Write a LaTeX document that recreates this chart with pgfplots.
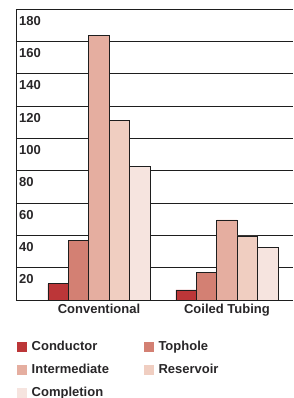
\documentclass[border=0pt]{standalone}
\usepackage{fontspec}
\setmainfont{Liberation Sans}
\usepackage{pgfplots}
\pgfplotsset{compat=1.18}
\definecolor{cCond}{RGB}{188,54,56}
\definecolor{cTop}{RGB}{211,128,115}
\definecolor{cInt}{RGB}{229,174,160}
\definecolor{cRes}{RGB}{240,206,193}
\definecolor{cCom}{RGB}{246,228,223}
\definecolor{txt}{RGB}{40,38,40}
\definecolor{ln}{RGB}{30,30,30}
\begin{document}
\begin{tikzpicture}
\useasboundingbox (0,0) rectangle (293pt,398pt);
\begin{axis}[
  at={(16pt,98pt)}, anchor=south west,
  width=277pt, height=291pt, scale only axis,
  ybar=0pt, bar width=20.4pt,
  xmin=-0.648, xmax=1.516, ymin=0, ymax=180,
  enlargelimits=false,
  xtick={0,1}, xticklabels={Conventional, Coiled Tubing},
  ytick={20,40,...,180},
  ymajorgrids, major grid style={ln, line width=0.9pt},
  axis x line*=bottom, axis y line*=left,
  axis line style={-, ln, line width=0.9pt},
  major tick length=0pt,
  tick label style={font=\fontsize{13}{15}\selectfont\bfseries, text=txt},
  /pgf/number format/assume math mode=true,
  yticklabel style={anchor=north west, inner sep=0pt, xshift=3pt, yshift=-7pt},
  xticklabel style={yshift=-1pt},
  legend columns=2,
  legend cell align=left,
  legend image code/.code={\path[#1, draw=none] (0pt,-5pt) rectangle (10pt,5pt);},
  legend style={at={(0.0036,-0.135)}, anchor=north west, draw=none, fill=none,
    inner sep=0pt, font=\fontsize{13}{15}\selectfont\bfseries, text=txt,
    row sep=8pt,
    /tikz/every odd column/.append style={column sep=2.5pt},
    /tikz/every even column/.append style={column sep=33pt}},
]
\addplot[fill=cCond, draw=ln, line width=0.8pt] coordinates {(0,10) (1,6.2)};
\addplot[fill=cTop, draw=ln, line width=0.8pt] coordinates {(0,36.7) (1,17.1)};
\addplot[fill=cInt, draw=ln, line width=0.8pt] coordinates {(0,163.5) (1,49.5)};
\addplot[fill=cRes, draw=ln, line width=0.8pt] coordinates {(0,111.3) (1,39.6)};
\addplot[fill=cCom, draw=ln, line width=0.8pt] coordinates {(0,82.4) (1,32.6)};
\legend{Conductor, Tophole, Intermediate, Reservoir, Completion}
\end{axis}
\end{tikzpicture}
\end{document}
